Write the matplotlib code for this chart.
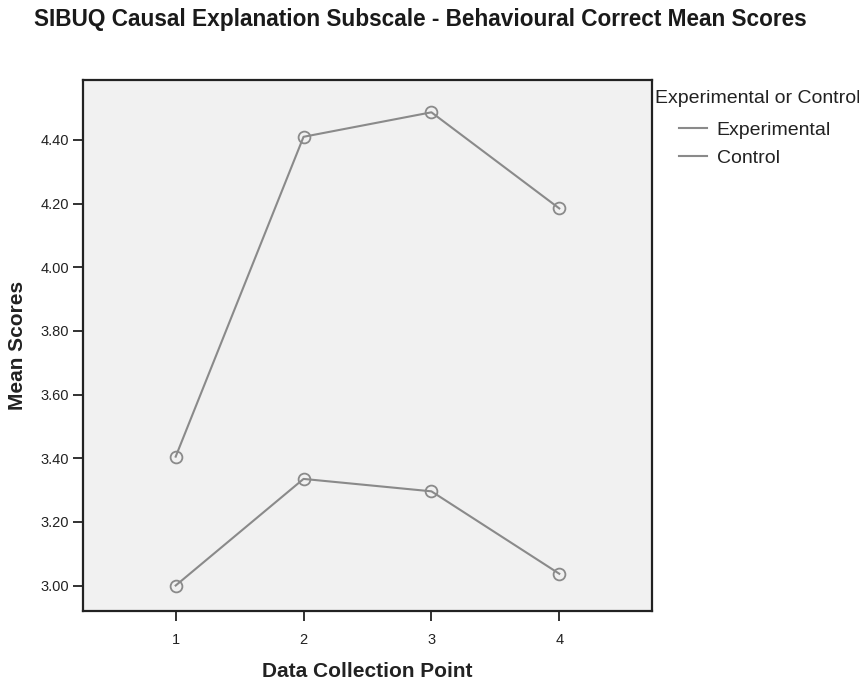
import matplotlib
matplotlib.use("Agg")
import matplotlib.pyplot as plt
from matplotlib.lines import Line2D

plt.rcParams['font.family'] = ['Liberation Sans', 'DejaVu Sans']

# data
points = [1, 2, 3, 4]
experimental = [3.405, 4.41, 4.487, 4.185]
control = [3.00, 3.335, 3.296, 3.037]
yticks = [3.00, 3.20, 3.40, 3.60, 3.80, 4.00, 4.20, 4.40]
series_names = ['Experimental', 'Control']

line_col = '#8a8a8a'
text_col = '#222222'

fig = plt.figure(figsize=(8.59, 6.91), dpi=100)
ax = fig.add_axes([0.0966, 0.1158, 0.6624, 0.7682])
ax.set_facecolor('#f1f1f1')

for vals in (experimental, control):
    ax.plot(points, vals, color=line_col, linewidth=1.5, marker='o',
            markersize=8.5, markerfacecolor='none', markeredgecolor=line_col,
            markeredgewidth=1.3)

ax.set_xlim(0.275, 4.725)
ax.set_ylim(2.92, 4.588)
ax.set_xticks(points)
ax.set_yticks(yticks)
ax.set_yticklabels([f"{v:.2f}" for v in yticks])
ax.tick_params(labelsize=10.5, length=7, width=1.3, colors=text_col)
ax.tick_params(axis='x', pad=9)
ax.tick_params(axis='y', pad=3)
for s in ax.spines.values():
    s.set_linewidth(1.6)
    s.set_color(text_col)

ax.set_xlabel('Data Collection Point', fontsize=15, fontweight='bold',
              labelpad=11, color=text_col)
ax.set_ylabel('Mean Scores', fontsize=15, fontweight='bold', labelpad=10,
              color=text_col)

fig.text(0.04, 0.972, 'SIBUQ Causal Explanation Subscale - Behavioural Correct Mean Scores',
         fontsize=16.3, fontweight='bold', va='center', ha='left', color='#1a1a1a')

# legend: title flush left, entries indented
fig.text(0.762, 0.857, 'Experimental or Control', fontsize=14, va='center',
         ha='left', color=text_col)
handles = [Line2D([], [], color=line_col, linewidth=1.5) for _ in series_names]
leg = fig.legend(handles, series_names, loc='upper left',
                 bbox_to_anchor=(0.79, 0.825), frameon=False, fontsize=14,
                 handlelength=1.45, handletextpad=0.5, labelspacing=0.55,
                 borderpad=0.0, borderaxespad=0.0)
for t in leg.get_texts():
    t.set_color(text_col)

fig.savefig('out.png', dpi=100)
